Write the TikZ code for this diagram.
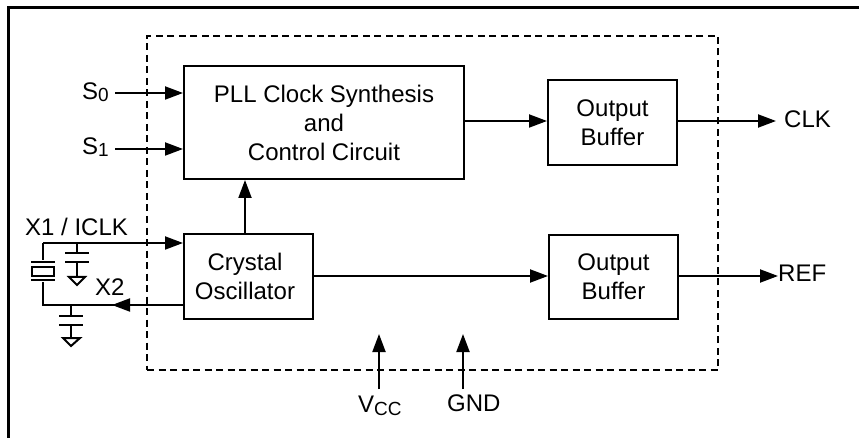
\documentclass[tikz,border=0pt]{standalone}
\usepackage{fontspec}
\setmainfont{Liberation Sans}
\usetikzlibrary{arrows.meta,calc}
\tikzset{
  blockbox/.style={draw=black,line width=2pt,fill=white,inner sep=0pt,align=center,font=\fontsize{24}{29}\selectfont},
  lbl/.style={inner sep=0pt,anchor=base west,font=\fontsize{24}{29}\selectfont},
  wire/.style={line width=2pt,line cap=butt},
  arr/.style={wire,-{Triangle[length=18pt,width=13pt]}},
  plate/.style={line width=2pt},
  frame/.style={line width=3pt},
  dash box/.style={line width=2pt,dash pattern=on 7pt off 4.5pt}
}
\newcommand{\subtxt}[2][-1.5pt]{\raisebox{#1}{\fontsize{19}{19}\selectfont #2}}
\begin{document}
\begin{tikzpicture}[x=1pt,y=-1pt]
\useasboundingbox (0,0) rectangle (859,438);
\draw[frame] (8,438) -- (8,8) -- (859,8);
\node[draw=black,dash box,minimum width=571pt,minimum height=334pt,inner sep=0pt,anchor=north west] (core) at (146,35) {};
\node[blockbox,minimum width=280pt,minimum height=113pt,anchor=north west] (pll) at (183,65) {PLL Clock Synthesis\\and\\Control Circuit};
\node[blockbox,minimum width=129pt,minimum height=85pt,anchor=north west] (buf1) at (547,79) {Output\\Buffer};
\node[blockbox,minimum width=129pt,minimum height=84pt,anchor=north west] (buf2) at (548,234) {Output\\Buffer};
\node[blockbox,minimum width=129pt,minimum height=85pt,anchor=north west] (osc) at (183,233) {\hspace*{-7pt}Crystal\\\hspace*{-7pt}Oscillator};
\node[lbl] (s0) at (82,100) {S\subtxt{0}};
\node[lbl] (s1) at (82,155) {S\subtxt{1}};
\node[lbl] (x1) at (25,236) {X1 / ICLK};
\node[lbl] (x2) at (95,295) {X2};
\node[lbl] (clk) at (784,128) {CLK};
\node[lbl] (ref) at (778,282) {REF};
\node[lbl] (vcc) at (358,412) {V\subtxt[-3pt]{CC}};
\node[lbl] (gnd) at (447,411) {GND};
% free ends
\coordinate (s0e) at (115,93);
\coordinate (s1e) at (115,149);
\coordinate (xa) at (43,243);
\coordinate (xb) at (43,305);
\coordinate (xtip) at (112,305);
\coordinate (vcce) at (379,389);
\coordinate (vcct) at (379,334);
\coordinate (gnde) at (463,389);
\coordinate (gndt) at (463,334);
\coordinate (clkt) at (776,121);
\coordinate (reft) at (778,276);
\coordinate (oscup) at (245,233);
% connectors
\draw[arr] (s0e) -- (pll.west |- s0e);
\draw[arr] (s1e) -- (pll.west |- s1e);
\draw[arr] (xa) -- (osc.west |- xa);
\draw[wire] (osc.west |- xb) -- (xb) -- (xa);
\draw[arr] (osc.west |- xb) -- (xtip);
\draw[arr] (oscup) -- (oscup |- pll.south);
\draw[arr] (pll.east |- clkt) -- (buf1.west |- clkt);
\draw[arr] (buf1.east |- clkt) -- (clkt);
\draw[arr] (osc.east |- reft) -- (buf2.west |- reft);
\draw[arr] (buf2.east |- reft) -- (reft);
\draw[arr] (vcce) -- (vcct);
\draw[arr] (gnde) -- (gndt);
% crystal
\fill[white] (31,260) rectangle (56,282);
\draw[plate] (31,262) -- (55,262);
\draw[plate] (31,280) -- (55,280);
\draw[plate,fill=white] (32,267) rectangle (54,276);
% cap 1
\draw[wire] (77,243) -- (77,253);
\draw[plate] (65,253) -- (89,253);
\draw[plate] (65,262) -- (89,262);
\draw[wire] (77,262) -- (77,277);
\draw[plate,line join=miter] (69,277) -- (85,277) -- (77,285) -- cycle;
% cap 2
\draw[wire] (71,305) -- (71,316);
\draw[plate] (59,316) -- (83,316);
\draw[plate] (59,325) -- (83,325);
\draw[wire] (71,325) -- (71,338);
\draw[plate,line join=miter] (63,338) -- (80,338) -- (71,346) -- cycle;
\end{tikzpicture}
\end{document}
